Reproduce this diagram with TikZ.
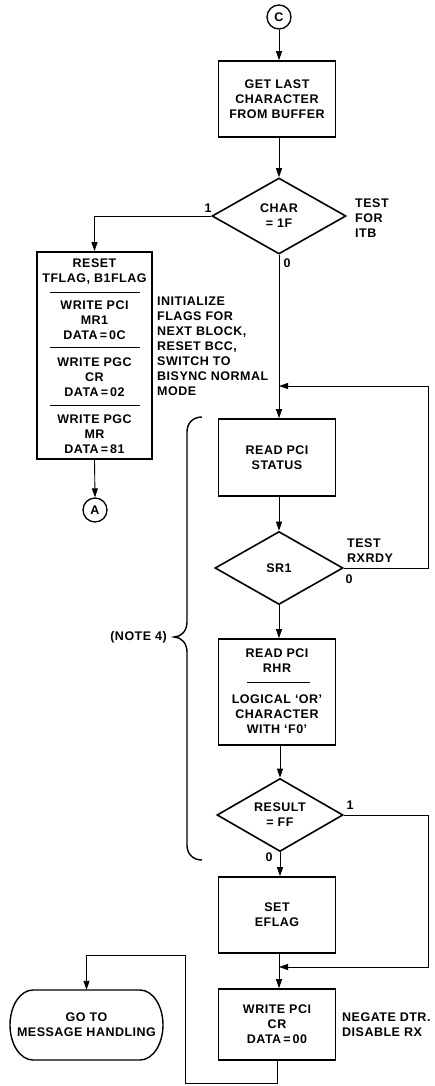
\documentclass[tikz,border=0pt]{standalone}
\usepackage{fontspec}
\setmainfont{Liberation Sans}[LetterSpace=4]
\usetikzlibrary{arrows.meta,shapes.geometric,calc}
\begin{document}
\begin{tikzpicture}[x=1pt,y=-1pt,
  every node/.style={font=\fontsize{12.5}{15}\selectfont\bfseries, align=center, inner sep=0pt},
  proc/.style={draw, line width=1.6pt, minimum width=117pt},
  dec/.style={draw, diamond, line width=1.6pt, aspect=1.8},
  conn/.style={draw, circle, line width=1.3pt, minimum size=24pt},
  flow/.style={line width=0.9pt, -{Triangle[length=9pt,width=6pt]}},
  wire/.style={line width=0.9pt},
  lbl/.style={align=left},
  sep/.style={line width=0.9pt},
  thick/.style={line width=1.4pt},
]
\useasboundingbox (0,0) rectangle (434,1086);

% nodes
\node[conn] (C) at (279,17) {C};
\node[proc, minimum height=76pt] (get) at (277,99) {GET LAST\\CHARACTER\\FROM BUFFER};
\node[dec, minimum width=134pt, minimum height=76pt] (char) at (279,216) {CHAR\\= 1F};
\node[lbl, anchor=west] (itb) at (355,218) {TEST\\FOR\\ITB};
\node (one1) at (208,208) {1};
\node[draw, line width=1.6pt, minimum width=115pt, minimum height=207pt] (reset) at (94.5,355.5) {};
\node (rs1) at (94.5,272) {RESET\\TFLAG, B1FLAG};
\node (rs2) at (94.5,320.5) {WRITE PCI\\MR1\\DATA\,=\,0C};
\node (rs3) at (94.5,377.5) {WRITE PGC\\CR\\DATA\,=\,02};
\node (rs4) at (94.5,434) {WRITE PGC\\MR\\DATA\,=\,81};
\draw[sep] (50,292) -- (140,292);
\draw[sep] (50,347) -- (140,347);
\draw[sep] (50,405) -- (140,405);
\node[conn] (A) at (95,510) {A};
\node[lbl, anchor=west] (init) at (157,346.5) {INITIALIZE\\FLAGS FOR\\NEXT BLOCK,\\RESET BCC,\\SWITCH TO\\BISYNC NORMAL\\MODE};
\node (zero1) at (287,263) {0};
\node[proc, minimum height=77pt] (status) at (277,457.5) {READ PCI\\STATUS};
\node[dec, minimum width=128pt, minimum height=73pt] (sr1) at (279,568) {SR1};
\node[lbl, anchor=west] (rxrdy) at (347,551) {TEST\\RXRDY};
\node (zero2) at (349,579) {0};
\node[proc, minimum height=106pt] (rhr) at (277,692) {};
\node (rhrA) at (277,661) {READ PCI\\RHR};
\draw[sep] (247,682) -- (310,682);
\node (rhrB) at (277,714.5) {LOGICAL ‘OR’\\CHARACTER\\WITH ‘F0’};
\node[dec, minimum width=126pt, minimum height=73pt] (result) at (280,815) {RESULT\\= FF};
\node (one2) at (350,805) {1};
\node (zero3) at (269,857) {0};
\node[proc, minimum height=76pt] (eflag) at (277,915) {SET\\EFLAG};
\node[proc, minimum height=71pt] (write) at (277,1024.5) {WRITE PCI\\CR\\DATA\,=\,00};
\node[lbl, anchor=west] (neg) at (342,1024.5) {NEGATE DTR.\\DISABLE RX};
\node[minimum width=153pt, minimum height=70pt] (goto) at (86.5,1025) {GO TO\\MESSAGE HANDLING};
\node[anchor=east] (note) at (167,637) {(NOTE 4)};

% terminal outline
\draw[thick] (33,990) -- (140,990) .. controls (152.7,990) and (163,1005.7) .. (163,1025)
  .. controls (163,1044.3) and (152.7,1060) .. (140,1060) -- (33,1060)
  .. controls (20.3,1060) and (10,1044.3) .. (10,1025)
  .. controls (10,1005.7) and (20.3,990) .. (33,990) -- cycle;

% brace
\draw[thick] (202,417) .. controls (193,417) and (187,423) .. (187,432) -- (187,622)
  .. controls (187,631) and (181,637) .. (174,637)
  .. controls (181,637) and (187,643) .. (187,652) -- (187,845)
  .. controls (187,854) and (193,860) .. (202,860);

% coordinates
\coordinate (m1) at (279,386);
\coordinate (r1) at (428,386);
\coordinate (m2) at (279,967);
\coordinate (r2) at (428,967);
\coordinate (b1) at (185,1083);
\coordinate (b2) at (185,955);

% connectors
\draw[flow] (C.south) -- (C.south |- get.north);
\draw[flow] (char.north |- get.south) -- (char.north);
\draw[flow] (char.west) -| (reset.north);
\draw[flow] (reset.south) -- (A.north);
\draw[flow] (char.south) -- (char.south |- status.north);
\draw[flow] (sr1.east) -| (r1) -- (m1);
\draw[flow] (sr1.north |- status.south) -- (sr1.north);
\draw[flow] (sr1.south) -- (sr1.south |- rhr.north);
\draw[flow] (result.north |- rhr.south) -- (result.north);
\draw[flow] (result.south) -- (result.south |- eflag.north);
\draw[flow] (result.east) -| (r2) -- (m2);
\draw[flow] (m2 |- eflag.south) -- (m2 |- write.north);
\draw[flow] (write.south) |- (b1) -- (b2) -| (goto.north);
\end{tikzpicture}
\end{document}
